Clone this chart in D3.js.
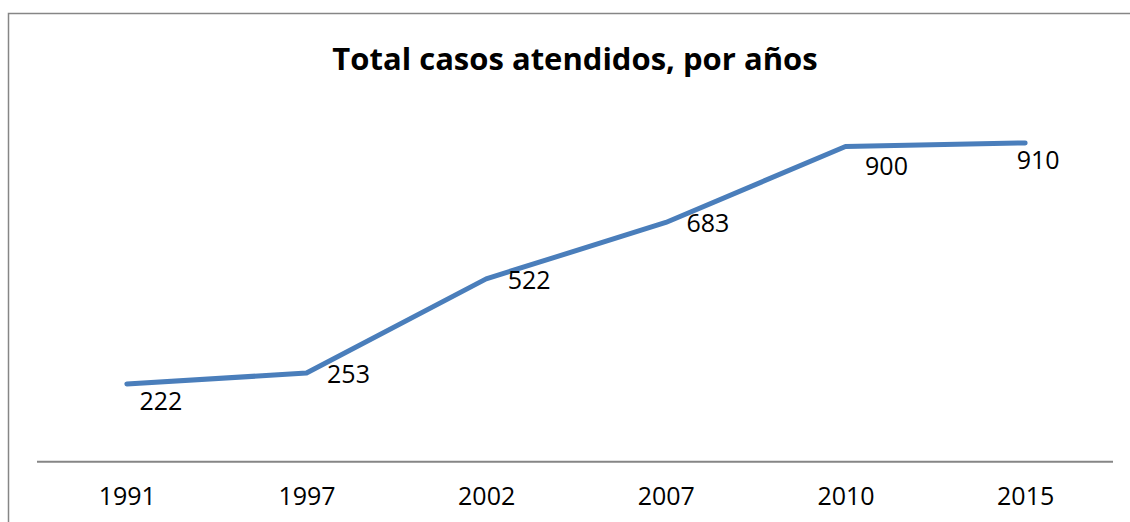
<!DOCTYPE html>
<html>
<head>
<meta charset="utf-8">
<script src="https://cdn.jsdelivr.net/npm/d3@7"></script>
<style>
  html, body { margin: 0; background: #fff; overflow: hidden; }
  svg { display: block; font-family: "Open Sans", "Noto Sans", sans-serif; }
</style>
</head>
<body>
<div id="chart"></div>
<script>
// datos del gráfico
var years = ["1991", "1997", "2002", "2007", "2010", "2015"];
var casos = [222, 253, 522, 683, 900, 910];
// desplazamiento de cada etiqueta respecto a su punto (dx, dy)
var labelDx = [34, 42, 43, 42, 41, 13];
var labelDy = [26, 10, 10, 10, 29, 26];

var width = 1130, height = 522;

var svg = d3.select("#chart").append("svg")
    .attr("width", width)
    .attr("height", height);

// marco del gráfico (solo se ven el borde superior y el izquierdo)
svg.append("path")
    .attr("d", "M8.5," + height + "V13.5H" + width)
    .attr("fill", "none")
    .attr("stroke", "#868686")
    .attr("stroke-width", 1.5);

// título
svg.append("text")
    .attr("x", 575).attr("y", 70)
    .attr("text-anchor", "middle")
    .style("font-size", "31px")
    .style("font-weight", "bold")
    .attr("fill", "#000")
    .text("Total casos atendidos, por años");

var x = d3.scalePoint()
    .domain(years)
    .range([37, 1115])
    .padding(0.5);

var y = d3.scaleLinear()
    .domain([0, 1000])
    .range([461.7, 111.4]);

// eje x
var xAxis = svg.append("g")
    .attr("transform", "translate(0," + y(0) + ")")
    .call(d3.axisBottom(x).tickSize(0).tickPadding(0));
xAxis.select(".domain")
    .attr("d", "M37,0H1113")
    .attr("stroke", "#868686")
    .attr("stroke-width", 2);
xAxis.selectAll("text")
    .attr("y", 43)
    .attr("dy", 0)
    .attr("fill", "#000")
    .style("font-size", "25px")
    .style("font-family", "'Open Sans', sans-serif");

var data = years.map((d, i) => ({ year: d, value: casos[i], dx: labelDx[i], dy: labelDy[i] }));

// línea
var line = d3.line()
    .x(d => x(d.year))
    .y(d => y(d.value));

svg.append("path")
    .datum(data)
    .attr("d", line)
    .attr("fill", "none")
    .attr("stroke", "#4A7EBB")
    .attr("stroke-width", 5)
    .attr("stroke-linecap", "round")
    .attr("stroke-linejoin", "round");

// etiquetas de datos
svg.selectAll(".lbl")
    .data(data)
    .enter()
    .append("text")
    .attr("class", "lbl")
    .attr("x", d => x(d.year) + d.dx)
    .attr("y", d => y(d.value) + d.dy)
    .attr("text-anchor", "middle")
    .attr("fill", "#000")
    .style("font-size", "25px")
    .text(d => d.value);
</script>
</body>
</html>
